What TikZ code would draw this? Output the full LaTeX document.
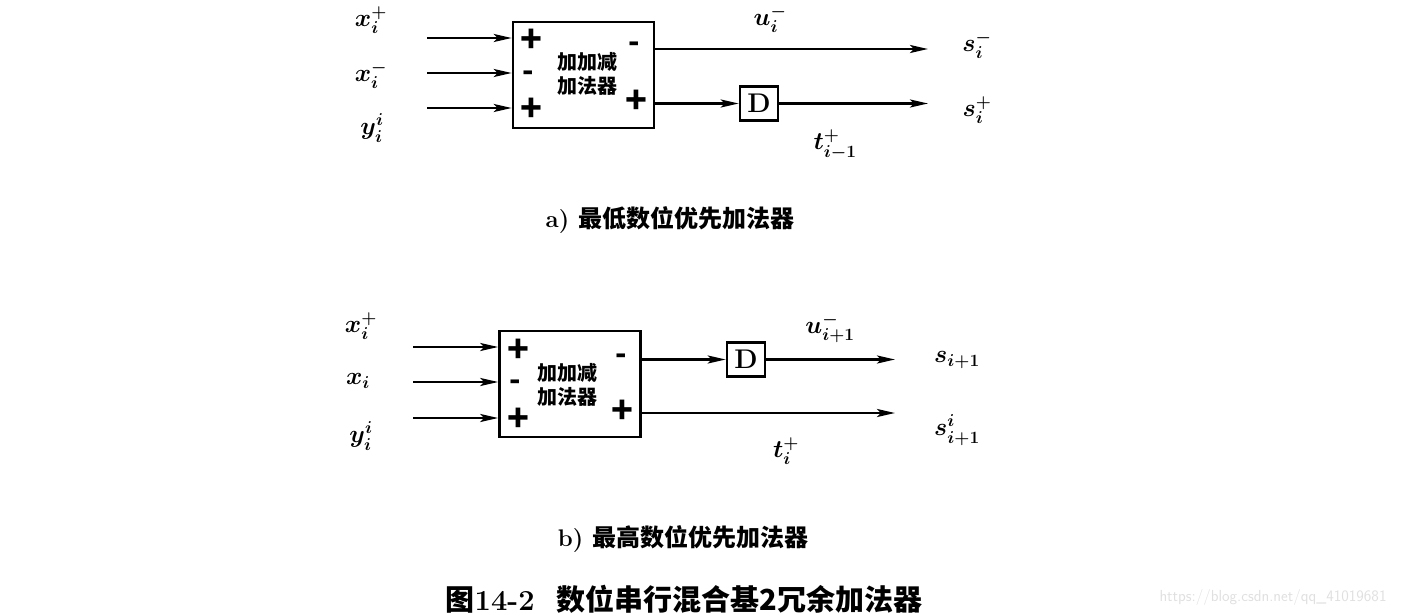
\documentclass[tikz,border=0pt]{standalone}
\usepackage{fontspec}
\newfontfamily\cjk{Noto Sans CJK SC}
\newcommand\cjkbold{\cjk\bfseries}
\usetikzlibrary{arrows.meta}
\tikzset{
  wire/.style={line width=2.6pt},
  arr/.style={wire,-{Stealth[length=18pt,width=8pt,inset=4pt]}},
  adder/.style={draw,line width=2.6pt,minimum width=141pt,minimum height=106pt,inner sep=0pt},
  dbox/.style={draw,line width=2.6pt,minimum width=38pt,minimum height=34pt,inner sep=0pt,font=\fontsize{27}{30}\selectfont\bfseries},
  lab/.style={font=\fontsize{26}{30}\selectfont\boldmath,inner sep=0pt},
  sgn/.style={font=\fontsize{36}{40}\selectfont\cjkbold,inner sep=0pt},
  msgn/.style={font=\fontsize{30}{34}\selectfont\cjkbold,inner sep=0pt},
  ctext/.style={font=\fontsize{20}{22}\selectfont\cjkbold,inner sep=0pt},
  captext/.style={font=\fontsize{24}{28}\selectfont\bfseries,inner sep=0pt},
}
\begin{document}
\begin{tikzpicture}[x=1pt,y=-1pt]
\useasboundingbox (0,0) rectangle (1402,615);
% ---------- part a ----------
\node[adder] (A) at (583.5,75) {};
\node[dbox] (DA) at (759,103.5) {D};
\coordinate (ai1) at (427,38);
\coordinate (ai2) at (427,73);
\coordinate (ai3) at (427,108);
\draw[arr] (ai1) -- (ai1 -| A.west);
\draw[arr] (ai2) -- (ai2 -| A.west);
\draw[arr] (ai3) -- (ai3 -| A.west);
\node[lab] (lxa) at (371,20) {$x_i^{+}$};
\node[lab] (lxma) at (371,75) {$x_i^{-}$};
\node[lab] (lya) at (372,128) {$y_i^{i}$};
\node[sgn] (pa1) at (531,41) {+};
\node[msgn] (ma1) at (528,76) {-};
\node[sgn] (pa2) at (531,110) {+};
\node[msgn] (ma2) at (634,47) {-};
\node[sgn] (pa3) at (636,102) {+};
\node[ctext] (ta1) at (587,62) {加加减};
\node[ctext] (ta2) at (587,86) {加法器};
\coordinate (ao1) at (928,49);
\coordinate (ao2) at (928,103.5);
\draw[arr] (A.east |- ao1) -- (ao1);
\draw[arr] (A.east |- DA.west) -- (DA.west);
\draw[arr] (DA.east) -- (ao2);
\node[lab] (ua) at (770,19) {$u_i^{-}$};
\node[lab] (sma) at (977,45) {$s_i^{-}$};
\node[lab] (spa) at (977,110) {$s_i^{+}$};
\node[lab] (tpa) at (835,145) {$t_{i-1}^{+}$};
\node[captext] (capa) at (670,220) {a) {\cjkbold 最低数位优先加法器}};
% ---------- part b ----------
\node[adder] (B) at (570,384) {};
\node[dbox] (DB) at (746,359.5) {D};
\coordinate (bi1) at (413,347);
\coordinate (bi2) at (413,382);
\coordinate (bi3) at (413,418);
\draw[arr] (bi1) -- (bi1 -| B.west);
\draw[arr] (bi2) -- (bi2 -| B.west);
\draw[arr] (bi3) -- (bi3 -| B.west);
\node[lab] (lxb) at (361,326) {$x_i^{+}$};
\node[lab] (lxmb) at (358,381) {$x_i$};
\node[lab] (lyb) at (361,436) {$y_i^{i}$};
\node[sgn] (pb1) at (518,351) {+};
\node[msgn] (mb1) at (515,385) {-};
\node[sgn] (pb2) at (518,420) {+};
\node[msgn] (mb2) at (621,359) {-};
\node[sgn] (pb3) at (622,412) {+};
\node[ctext] (tb1) at (567,373) {加加减};
\node[ctext] (tb2) at (567,397) {加法器};
\coordinate (bo1) at (895,359.5);
\coordinate (bo2) at (895,413);
\draw[arr] (B.east |- DB.west) -- (DB.west);
\draw[arr] (DB.east) -- (bo1);
\draw[arr] (B.east |- bo2) -- (bo2);
\node[lab] (ub) at (830,328) {$u_{i+1}^{-}$};
\node[lab] (sb1) at (957,360) {$s_{i+1}$};
\node[lab] (sb2) at (957,430) {$s_{i+1}^{i}$};
\node[lab] (tb) at (786,451) {$t_i^{+}$};
\node[captext] (capb) at (683,539) {b) {\cjkbold 最高数位优先加法器}};
\node[font=\fontsize{29}{32}\selectfont\bfseries,inner sep=0pt] (capm) at (684,599) {{\cjkbold 图}14-2\hspace{22pt}{\cjkbold 数位串行混合基2冗余加法器}};
\node[font=\fontsize{16}{18}\selectfont\sffamily,text=black!12,inner sep=0pt] (wm) at (1273,597) {https://blog.csdn.net/qq\_41019681};
\end{tikzpicture}
\end{document}
